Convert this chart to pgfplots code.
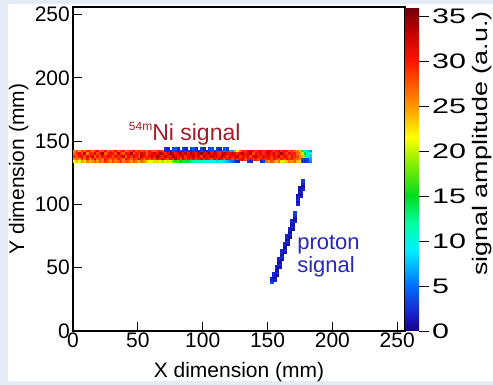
\documentclass[border=0pt]{standalone}
\usepackage{fontspec}
\setmainfont{Liberation Sans}
\usepackage{graphicx}
\usepackage{pgfplots}
\pgfplotsset{compat=1.18, /pgf/number format/assume math mode=true}
\definecolor{bgc}{RGB}{230,236,246}
\definecolor{nired}{RGB}{160,30,40}
\definecolor{pblue}{RGB}{40,40,190}
\begin{document}
\begin{tikzpicture}[font=\fontsize{21}{25}\selectfont]
\useasboundingbox (0,0) rectangle (493pt,385pt);
\fill[bgc] (0,0) rectangle (493pt,385pt);
\fill[white] (8pt,4pt) rectangle (493pt,381pt);
\begin{axis}[
 at={(73pt,54pt)}, anchor=south west,
 scale only axis, width=332pt, height=324pt,
 xmin=0,xmax=256,ymin=0,ymax=256,
 xtick={0,50,...,250}, ytick={0,50,...,250},
 tick pos=left, tick align=inside, major tick length=9pt,
 axis line style={line width=1.5pt},
 tick style={line width=1pt, black},
 xticklabel style={inner sep=0pt, yshift=-2pt},
 yticklabel style={inner sep=0pt, xshift=-3pt},
 colormap={rootmap}{rgb255(0pt)=(20,0,140); rgb255(2pt)=(25,35,205); rgb255(5pt)=(0,110,255); rgb255(9pt)=(0,240,255); rgb255(12pt)=(0,255,160); rgb255(15pt)=(0,220,30); rgb255(19pt)=(150,240,0); rgb255(21.5pt)=(255,255,0); rgb255(25pt)=(255,150,0); rgb255(30pt)=(255,20,0); rgb255(33pt)=(200,0,0); rgb255(36pt)=(110,0,10)},
 point meta min=0, point meta max=36,
 colorbar,
 colorbar style={at={(1,1)}, anchor=north west, xshift=1.5pt, width=24pt,
   ytick={0,5,...,35}, ytick pos=right, yticklabel pos=right, tick align=inside,
   major tick length=10pt, axis line style={draw=none},
   tick style={line width=0.8pt, black},
   yticklabel style={anchor=west, inner sep=0pt, xshift=3pt},
   yticklabel={\scalebox{1.45}[1]{\pgfmathprintnumber{\tick}}}},
]
% band
\addplot[scatter, only marks, mark=square*, mark size=1.2pt, mark options={line width=0.3pt},
 scatter/use mapped color={draw=mapped color, fill=mapped color}, point meta=explicit] coordinates {
(1,142)[26] (3,142)[28] (5,142)[25] (7,142)[29] (9,142)[27] (11,142)[30] (13,142)[28] (15,142)[26] (17,142)[29] (19,142)[31] (21,142)[27] (23,142)[28] (25,142)[30] (27,142)[26] (29,142)[29] (31,142)[28] (33,142)[31] (35,142)[27] (37,142)[29] (39,142)[30] (41,142)[26] (43,142)[28] (45,142)[29] (47,142)[31] (49,142)[27] (51,142)[30] (53,142)[28] (55,142)[29] (57,142)[26] (59,142)[30] (61,142)[28] (63,142)[27] (65,142)[29] (67,142)[31] (69,142)[28]
(71,142)[2] (73,142)[3] (75,142)[2] (77,142)[4] (79,142)[3] (81,142)[2] (83,142)[3] (85,142)[2] (87,142)[4] (89,142)[3] (91,142)[2] (93,142)[3] (95,142)[3] (97,142)[2] (99,142)[4] (101,142)[3] (103,142)[2] (105,142)[3] (107,142)[4] (109,142)[3] (111,142)[4] (113,142)[5] (115,142)[4] (117,142)[6] (119,142)[5] (121,142)[7] (123,142)[6]
(125,142)[18] (127,142)[22] (129,142)[27] (131,142)[30] (133,142)[29] (135,142)[31] (137,142)[33] (139,142)[30] (141,142)[28] (143,142)[31] (145,142)[32] (147,142)[29] (149,142)[30] (151,142)[33] (153,142)[31] (155,142)[28] (157,142)[30] (159,142)[32] (161,142)[29] (163,142)[31] (165,142)[30] (167,142)[28] (169,142)[29] (171,142)[27] (173,142)[26] (175,142)[23]
(177,142)[14] (179,142)[10] (181,142)[8] (183,142)[6]
(71,144)[3] (73,144)[2] (77,144)[3] (79,144)[4] (81,144)[2] (85,144)[3] (87,144)[2] (91,144)[3] (93,144)[4] (95,144)[2] (99,144)[3] (101,144)[2] (105,144)[3] (107,144)[4] (111,144)[3] (113,144)[2] (117,144)[4] (119,144)[3]
(1,140)[27] (3,140)[29] (5,140)[31] (7,140)[28] (9,140)[33] (11,140)[26] (13,140)[30] (15,140)[29] (17,140)[32] (19,140)[28] (21,140)[30] (23,140)[34] (25,140)[27] (27,140)[29] (29,140)[31]
(31,140)[30] (33,140)[28] (35,140)[33] (37,140)[29] (39,140)[27] (41,140)[31] (43,140)[30] (45,140)[34] (47,140)[28] (49,140)[30] (51,140)[29] (53,140)[32] (55,140)[31] (57,140)[27] (59,140)[30]
(61,140)[31] (63,140)[33] (65,140)[30] (67,140)[34] (69,140)[32] (71,140)[29] (73,140)[31] (75,140)[35] (77,140)[33] (79,140)[30] (81,140)[32] (83,140)[34] (85,140)[31] (87,140)[33] (89,140)[30]
(91,140)[34] (93,140)[32] (95,140)[30] (97,140)[33] (99,140)[35] (101,140)[31] (103,140)[32] (105,140)[34] (107,140)[30] (109,140)[33] (111,140)[31] (113,140)[29] (115,140)[32] (117,140)[34] (119,140)[31]
(121,140)[30] (123,140)[33] (125,140)[31] (127,140)[29] (129,140)[32] (131,140)[34] (133,140)[30] (135,140)[31] (137,140)[33] (139,140)[28] (141,140)[31] (143,140)[30] (145,140)[32] (147,140)[29] (149,140)[31]
(151,140)[33] (153,140)[30] (155,140)[32] (157,140)[29] (159,140)[31] (161,140)[34] (163,140)[30] (165,140)[28] (167,140)[31] (169,140)[29] (171,140)[30] (173,140)[27] (175,140)[25]
(177,140)[20] (179,140)[15] (181,140)[11] (183,140)[9]
(1,138)[29] (3,138)[27] (5,138)[30] (7,138)[32] (9,138)[28] (11,138)[31] (13,138)[29] (15,138)[33] (17,138)[27] (19,138)[30] (21,138)[28] (23,138)[31] (25,138)[29] (27,138)[32] (29,138)[30]
(31,138)[28] (33,138)[31] (35,138)[29] (37,138)[30] (39,138)[33] (41,138)[27] (43,138)[31] (45,138)[29] (47,138)[32] (49,138)[30] (51,138)[28] (53,138)[33] (55,138)[30] (57,138)[29] (59,138)[31]
(61,138)[32] (63,138)[30] (65,138)[34] (67,138)[31] (69,138)[29] (71,138)[33] (73,138)[31] (75,138)[30] (77,138)[35] (79,138)[32] (81,138)[30] (83,138)[31] (85,138)[33] (87,138)[29] (89,138)[32]
(91,138)[31] (93,138)[33] (95,138)[30] (97,138)[32] (99,138)[29] (101,138)[34] (103,138)[31] (105,138)[30] (107,138)[33] (109,138)[31] (111,138)[32] (113,138)[30] (115,138)[34] (117,138)[31] (119,138)[29]
(121,138)[32] (123,138)[30] (125,138)[31] (127,138)[33] (129,138)[29] (131,138)[31] (133,138)[30] (135,138)[32] (137,138)[28] (139,138)[31] (141,138)[33] (143,138)[30] (145,138)[29] (147,138)[32] (149,138)[30]
(151,138)[31] (153,138)[29] (155,138)[32] (157,138)[30] (159,138)[33] (161,138)[29] (163,138)[31] (165,138)[30] (167,138)[28] (169,138)[31] (171,138)[29] (173,138)[28] (175,138)[26]
(177,138)[24] (179,138)[18] (181,138)[12] (183,138)[8]
(1,136)[26] (3,136)[28] (5,136)[25] (7,136)[29] (9,136)[27] (11,136)[30] (13,136)[26] (15,136)[28] (17,136)[31] (19,136)[27] (21,136)[29] (23,136)[26] (25,136)[30] (27,136)[28] (29,136)[27]
(31,136)[29] (33,136)[27] (35,136)[30] (37,136)[28] (39,136)[26] (41,136)[31] (43,136)[29] (45,136)[27] (47,136)[30] (49,136)[28] (51,136)[31] (53,136)[29] (55,136)[27] (57,136)[30] (59,136)[28]
(61,136)[30] (63,136)[28] (65,136)[31] (67,136)[29] (69,136)[32] (71,136)[30] (73,136)[28] (75,136)[31] (77,136)[29] (79,136)[33] (81,136)[30] (83,136)[28] (85,136)[31] (87,136)[29] (89,136)[30]
(91,136)[29] (93,136)[31] (95,136)[28] (97,136)[30] (99,136)[32] (101,136)[29] (103,136)[31] (105,136)[30] (107,136)[28] (109,136)[31] (111,136)[29] (113,136)[32] (115,136)[30] (117,136)[28] (119,136)[31]
(121,136)[30] (123,136)[28] (125,136)[31] (127,136)[29] (129,136)[30] (131,136)[32] (133,136)[28] (135,136)[30] (137,136)[31] (139,136)[29] (141,136)[30] (143,136)[28] (145,136)[31] (147,136)[30] (149,136)[29]
(151,136)[30] (153,136)[28] (155,136)[31] (157,136)[29] (159,136)[27] (161,136)[30] (163,136)[28] (165,136)[31] (167,136)[29] (169,136)[30] (171,136)[28] (173,136)[27] (175,136)[25]
(177,136)[4] (179,136)[3] (181,136)[3] (183,136)[7]
(1,134)[22] (3,134)[24] (5,134)[21] (7,134)[25] (9,134)[23] (11,134)[26] (13,134)[24] (15,134)[25]
(17,134)[27] (19,134)[25] (21,134)[28] (23,134)[26] (25,134)[29] (27,134)[27] (29,134)[25] (31,134)[28] (33,134)[26] (35,134)[27] (37,134)[29] (39,134)[26] (41,134)[28] (43,134)[27] (45,134)[25] (47,134)[28] (49,134)[26] (51,134)[24] (53,134)[27] (55,134)[25]
(57,134)[23] (59,134)[21] (61,134)[22] (63,134)[20] (65,134)[23] (67,134)[21] (69,134)[19] (71,134)[22] (73,134)[20] (75,134)[21]
(77,134)[18] (79,134)[16] (81,134)[17] (83,134)[15] (85,134)[16] (87,134)[14] (89,134)[15] (91,134)[13]
(93,134)[12] (95,134)[11] (97,134)[10] (99,134)[12] (101,134)[9] (103,134)[11] (105,134)[10] (107,134)[9] (109,134)[11] (111,134)[8] (113,134)[10] (115,134)[9] (117,134)[8]
(119,134)[7] (121,134)[6] (123,134)[5]
(125,134)[3] (127,134)[2] (135,134)[3] (137,134)[2] (145,134)[2] (147,134)[3]
(149,134)[27] (151,134)[25] (153,134)[28] (155,134)[26] (157,134)[24] (159,134)[27] (161,134)[22] (163,134)[20] (165,134)[24] (167,134)[26] (169,134)[25] (171,134)[27] (173,134)[24] (175,134)[23]
(177,134)[3] (179,134)[2] (181,134)[3] (183,134)[6]
};
% proton track
\addplot[scatter, only marks, mark=square*, mark size=1.7pt, mark options={line width=0.3pt},
 scatter/use mapped color={draw=mapped color, fill=mapped color}, point meta=explicit] coordinates {
(153,39)[4] (153,41)[2] (155,41)[2] (155,43)[1] (155,45)[2] (157,45)[1] (157,47)[2] (157,49)[1] (157,51)[2]
(159,51)[1] (159,53)[2] (159,55)[1] (159,57)[2] (161,57)[1] (161,59)[2] (161,61)[1] (161,63)[2]
(163,63)[1] (163,65)[2] (163,67)[1] (163,69)[2] (165,69)[1] (165,71)[2] (165,73)[1] (165,75)[2]
(167,75)[1] (167,77)[2] (167,79)[1] (167,81)[2] (169,81)[1] (169,83)[2] (169,85)[1] (169,87)[2]
(171,87)[2] (171,89)[1] (171,91)[2] (171,93)[3]
(173,101)[2] (173,103)[1] (173,105)[2] (173,107)[1] (175,107)[2] (175,109)[1] (175,111)[2] (175,113)[1]
(177,113)[2] (177,115)[1] (177,117)[2] (177,119)[3]
};
\node[anchor=base west, inner sep=0pt, text=nired, font=\fontsize{23}{25}\selectfont] at (axis cs:43,150.3) {\raisebox{10pt}{\fontsize{12}{12}\selectfont 54m}Ni signal};
\node[anchor=base west, inner sep=0pt, text=pblue, font=\fontsize{22}{25}\selectfont] at (axis cs:172.8,64) {proton};
\node[anchor=base west, inner sep=0pt, text=pblue, font=\fontsize{22}{25}\selectfont] at (axis cs:172.8,45.9) {signal};
\end{axis}
\node[anchor=base] at (239pt,7pt) {X dimension (mm)};
\node[rotate=90, anchor=base] at (24pt,216pt) {Y dimension (mm)};
\node[rotate=90, anchor=base] at (487pt,241.5pt) {\scalebox{1.28}[1]{signal amplitude (a.u.)}};
\end{tikzpicture}
\end{document}
